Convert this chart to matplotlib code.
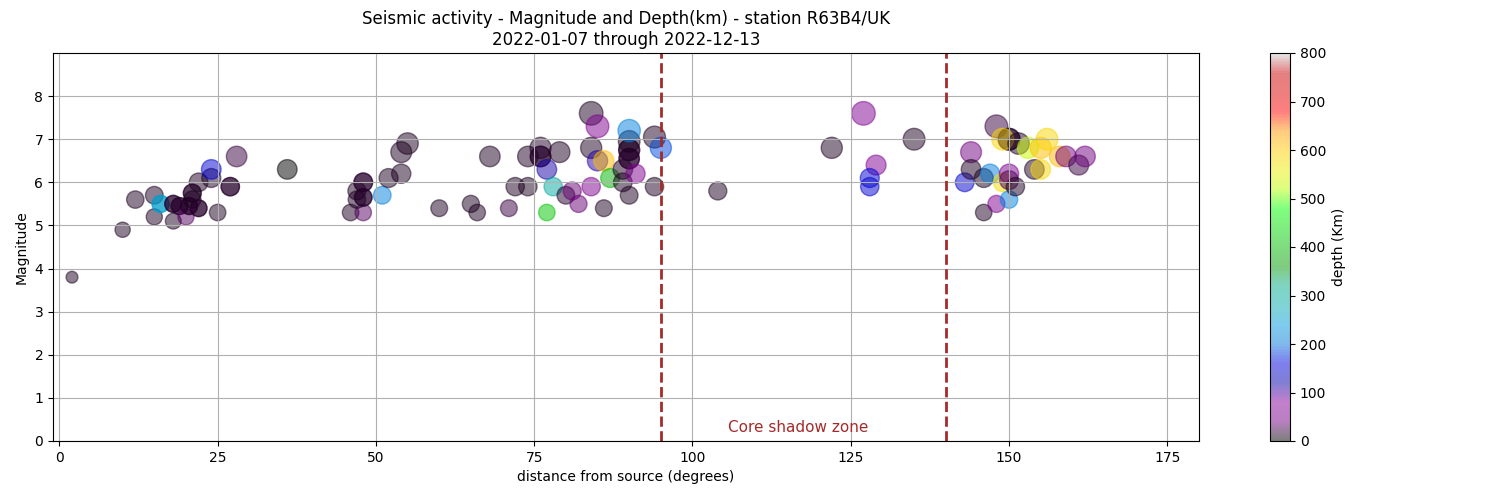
import numpy as np
import matplotlib
matplotlib.use("Agg")
import matplotlib.pyplot as plt

# distance (degrees), magnitude, depth (km)
distance = [2, 10, 12, 15, 15, 16, 16, 18, 18, 18, 19, 19, 20, 20.5, 20.5, 21, 21, 21,
            22, 22, 22, 24, 24, 25, 27, 27, 28, 36,
            46, 48, 47, 47, 48, 48, 48, 48, 51, 52, 54, 54, 55,
            60, 65, 66, 68, 71, 72, 74, 74, 76, 76, 76, 79, 77, 77, 78,
            80, 81, 82, 84, 84, 85, 84, 85, 86, 87, 86, 89, 89, 90,
            90, 90, 90, 90, 90, 90, 91, 94, 94, 95,
            104, 122, 127, 129, 128, 128, 135,
            143, 144, 144, 146, 146, 147, 148, 148, 150, 150, 149, 151.5,
            149, 150, 150, 150, 151, 153, 155, 156, 154, 155, 158, 159, 161, 162]
magnitude = [3.8, 4.9, 5.6, 5.7, 5.2, 5.5, 5.5, 5.1, 5.5, 5.5, 5.45, 5.45, 5.2, 5.45, 5.45,
             5.75, 5.75, 5.6, 5.4, 5.4, 6.0, 6.1, 6.3, 5.3, 5.9, 5.9, 6.6, 6.3,
             5.3, 5.3, 5.8, 5.6, 6.0, 6.0, 5.65, 5.65, 5.7, 6.1, 6.2, 6.7, 6.9,
             5.4, 5.5, 5.3, 6.6, 5.4, 5.9, 5.9, 6.6, 6.8, 6.6, 6.6, 6.7, 6.3, 5.3, 5.9,
             5.7, 5.8, 5.5, 5.9, 7.6, 7.3, 6.8, 6.5, 6.5, 6.1, 5.4, 6.3, 6.0, 5.7,
             6.55, 6.55, 6.75, 6.75, 6.95, 7.2, 6.2, 7.05, 5.9, 6.8,
             5.8, 6.8, 7.6, 6.4, 6.1, 5.9, 7.0,
             6.0, 6.7, 6.3, 6.1, 5.3, 6.2, 5.5, 7.3, 7.0, 7.0, 7.0, 6.9,
             6.0, 6.2, 6.05, 5.6, 5.9, 6.8, 6.8, 7.0, 6.3, 6.3, 6.6, 6.6, 6.4, 6.6]
depth = [10, 10, 10, 10, 10, 250, 250, 10, 15, 15, 15, 15, 30, 15, 15,
         15, 15, 10, 15, 15, 10, 10, 150, 10, 15, 15, 20, 2,
         10, 30, 10, 10, 15, 15, 15, 15, 210, 10, 10, 10, 10,
         10, 10, 10, 10, 20, 10, 10, 10, 15, 15, 15, 10, 115, 410, 290,
         15, 35, 35, 60, 10, 60, 10, 110, 610, 390, 10, 10, 10, 10,
         15, 15, 15, 15, 10, 210, 60, 10, 10, 185,
         10, 10, 65, 65, 150, 150, 10,
         150, 40, 10, 10, 10, 210, 60, 20, 10, 10, 590, 10,
         580, 60, 25, 210, 10, 530, 610, 585, 10, 585, 615, 40, 20, 40]

distance = np.array(distance, dtype=float)
magnitude = np.array(magnitude, dtype=float)
depth = np.array(depth, dtype=float)

fig = plt.figure(figsize=(15, 5), dpi=100)
ax = fig.add_axes([53/1500, 59/500, (1199-53)/1500, (441-53)/500])
cax = fig.add_axes([1270/1500, 59/500, 20/1500, (441-53)/500])

sc = ax.scatter(distance, magnitude, s=5 * magnitude**2, c=depth,
                cmap='nipy_spectral', vmin=0, vmax=800, alpha=0.5)

ax.axvline(95, color='brown', linestyle='--', linewidth=2)
ax.axvline(140, color='brown', linestyle='--', linewidth=2)
ax.text(116.7, 0.32, 'Core shadow zone', color='brown', fontsize=11,
        ha='center', va='center')

ax.set_xlim(-1, 180)
ax.set_ylim(0, 9)
ax.set_xticks(np.arange(0, 176, 25))
ax.set_yticks(np.arange(0, 9, 1))
ax.grid(True)
ax.set_xlabel('distance from source (degrees)')
ax.set_ylabel('Magnitude')
ax.set_title('Seismic activity - Magnitude and Depth(km) - station R63B4/UK\n'
             '2022-01-07 through 2022-12-13')

cb = fig.colorbar(sc, cax=cax)
cb.set_label('depth (Km)')

fig.savefig('out.png', dpi=100)
